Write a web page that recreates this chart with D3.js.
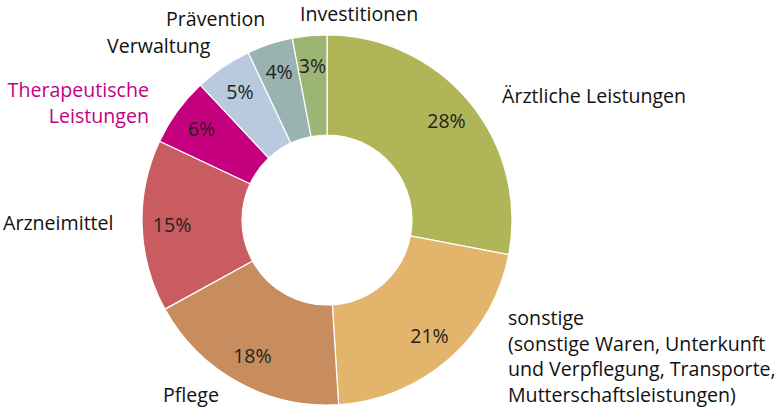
<!DOCTYPE html>
<html><head><meta charset="utf-8">
<script src="https://cdn.jsdelivr.net/npm/d3@7"></script>
<style>body{margin:0;background:#fff}svg{display:block}text{font-family:"Open Sans",sans-serif}</style>
</head><body><svg id="c" width="783" height="411"></svg>
<script>
const categories = ["Ärztliche Leistungen","sonstige","Pflege","Arzneimittel","Therapeutische Leistungen","Verwaltung","Prävention","Investitionen"];
const values = [28,21,18,15,6,5,4,3];
const colors = ["#b0b657","#e3b46b","#c78d5e","#c85c60","#c5007f","#b9c9de","#99b3b0","#9db574"];
const labelLines = [["Ärztliche Leistungen"],["sonstige","(sonstige Waren, Unterkunft","und Verpflegung, Transporte,","Mutterschaftsleistungen)"],["Pflege"],["Arzneimittel"],["Therapeutische","Leistungen"],["Verwaltung"],["Prävention"],["Investitionen"]];

const svg = d3.select("#c");
const cx = 327, cy = 220, rO = 185, rI = 85, rL = 155;
const g = svg.append("g").attr("transform",`translate(${cx},${cy})`);
const pie = d3.pie().sort(null).value(d=>d)(values);
const arc = d3.arc().innerRadius(rI).outerRadius(rO);
const lab = d3.arc().innerRadius(rL).outerRadius(rL);
g.selectAll("path").data(pie).join("path").attr("d",arc)
  .attr("fill",(d,i)=>colors[i]).attr("stroke","#fff").attr("stroke-width",1.2);
g.selectAll("text.p").data(pie).join("text").attr("class","p")
  .attr("transform",d=>`translate(${lab.centroid(d)})`)
  .attr("text-anchor","middle").attr("dy","0.35em")
  .attr("font-size",19.5).attr("fill","#222").text(d=>d.value+"%");

// outer category labels: [x, baseline y, anchor, color]
const pos = [[502,103,"start","#111"],[508,325,"start","#111"],[163,402,"start","#111"],[3,230,"start","#111"],[149,97,"end","#c5007f"],[107,53,"start","#111"],[166,26,"start","#111"],[300,21,"start","#111"]];
labelLines.forEach((lines,i)=>{
  const p = pos[i];
  const t = svg.append("text").attr("x",p[0]).attr("y",p[1]).attr("text-anchor",p[2])
    .attr("fill",p[3]).attr("font-size",19.6);
  lines.forEach((l,j)=>t.append("tspan").attr("x",p[0]).attr("dy",j?25.5:0).text(l));
});
</script></body></html>
